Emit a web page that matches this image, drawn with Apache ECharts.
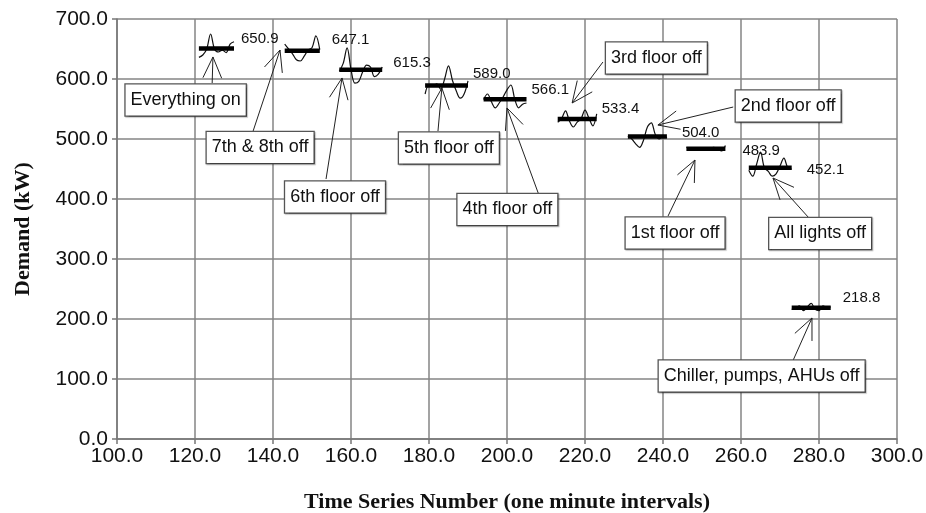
<!DOCTYPE html>
<html>
<head>
<meta charset="utf-8">
<script src="https://cdn.jsdelivr.net/npm/echarts@6/dist/echarts.min.js"></script>
<style>
  html, body { margin: 0; padding: 0; background: #fff; }
  #chart { width: 926px; height: 513px; }
</style>
</head>
<body>
<div id="chart"></div>
<script>
// Building demand (kW), one reading per minute, for each load-shedding step
const stepStart = [121, 143, 157, 179, 194, 213, 231, 246, 262, 273];
const everythingOn = [636, 640, 650, 675, 650, 645, 648, 644, 658, 662];
const floors78Off = [658, 650, 642, 632, 630, 638, 648, 652, 672, 649];
const floor6Off = [613, 626, 652, 616, 593, 596, 612, 623, 620, 604, 608, 620];
const floor5Off = [575, 590, 588, 592, 583, 600, 622, 598, 580, 568, 575, 597];
const floor4Off = [566, 575, 562, 552, 560, 570, 582, 590, 566, 552, 558, 560];
const floor3Off = [528, 534, 547, 530, 520, 528, 534, 548, 535, 522, 542];
const floor2Off = [505, 500, 492, 486, 498, 520, 527, 508, 500, 506, 502];
const floor1Off = [486, 484, 482, 485, 483, 481, 484, 486, 483, 480, 489];
const lightsOff = [448, 438, 458, 478, 452, 446, 438, 442, 455, 468, 452, 450];
const chillerOff = [216, 218, 222, 214, 220, 226, 216, 214, 222, 219, 220];

// Average demand of each step
const stepMeans = [650.9, 647.1, 615.3, 589.0, 566.1, 533.4, 504.0, 483.9, 452.1, 218.8];

// Axis ticks
const xTicks = [100, 120, 140, 160, 180, 200, 220, 240, 260, 280, 300];
const yTicks = [0, 100, 200, 300, 400, 500, 600, 700];

// Callouts: text, box centre, arrow tail and arrow tip (axis units)
const calloutText = ['Everything on', '7th & 8th off', '6th floor off', '5th floor off', '4th floor off',
  '3rd floor off', '2nd floor off', '1st floor off', 'All lights off', 'Chiller, pumps, AHUs off'];
const calloutBox = [[117.6, 565], [136.7, 485.8], [155.9, 403.3], [185.1, 485], [200.1, 382.5],
  [238.3, 635], [272.1, 555], [243.1, 343.3], [280.3, 342.5], [265.3, 105]];
const arrowTail = [[124.4, 593.3], [134.9, 513.3], [153.6, 433.3], [182.3, 513.3], [208, 410],
  [224.6, 628.3], [258, 553.3], [241.3, 371.7], [277.2, 370], [272.6, 120]];
const arrowTip = [[124.6, 636.7], [141.8, 648.3], [157.7, 601.7], [183.3, 585], [200, 551.7],
  [216.7, 560], [238.7, 523.3], [248.2, 465], [268.2, 435], [278.2, 201.7]];

const steps = [everythingOn, floors78Off, floor6Off, floor5Off, floor4Off,
  floor3Off, floor2Off, floor1Off, lightsOff, chillerOff];

// Nudges for the mean-value labels, in pixels
const labelNudge = [[7, -10], [12, -11], [11, -7], [5, -12], [5, -9], [5, -10], [15, -4], [17, 2], [15, 2], [12, -10]];

const sans = '"Liberation Sans", Arial, sans-serif';
const serif = '"Liberation Serif", "Times New Roman", serif';

const series = [];
steps.forEach((vals, i) => {
  const x0 = stepStart[i];
  // raw minute readings
  series.push({
    type: 'line',
    data: vals.map((v, k) => [x0 + k, v]),
    symbol: 'none',
    smooth: 0.35,
    lineStyle: { color: '#111', width: 1.2 },
    z: 3
  });
  // step average, labelled at its right end
  const x1 = x0 + vals.length - 1;
  series.push({
    type: 'line',
    data: [[x0, stepMeans[i]], [x1, stepMeans[i]]],
    symbol: 'none',
    lineStyle: { color: '#000', width: 4.5 },
    z: 4,
    endLabel: {
      show: true,
      formatter: stepMeans[i].toFixed(1),
      distance: 0,
      offset: labelNudge[i],
      fontFamily: sans,
      fontSize: 15,
      color: '#111'
    }
  });
});

// Boxed callouts with open-headed arrows
series.push({
  type: 'custom',
  clip: false,
  z: 6,
  data: calloutBox.map((b, i) => [b[0], b[1], i]),
  encode: { x: 0, y: 1 },
  renderItem: function (params, api) {
    const i = api.value(2);
    const box = api.coord(calloutBox[i]);
    const tail = api.coord(arrowTail[i]);
    const tip = api.coord(arrowTip[i]);
    const ang = Math.atan2(tail[1] - tip[1], tail[0] - tip[0]);
    const wing = 23, spread = 0.42;
    const w1 = [tip[0] + wing * Math.cos(ang + spread), tip[1] + wing * Math.sin(ang + spread)];
    const w2 = [tip[0] + wing * Math.cos(ang - spread), tip[1] + wing * Math.sin(ang - spread)];
    const ls = { stroke: '#222', lineWidth: 1, fill: null };
    return {
      type: 'group',
      children: [
        { type: 'line', shape: { x1: tail[0], y1: tail[1], x2: tip[0], y2: tip[1] }, style: ls },
        { type: 'line', shape: { x1: w1[0], y1: w1[1], x2: tip[0], y2: tip[1] }, style: ls },
        { type: 'line', shape: { x1: w2[0], y1: w2[1], x2: tip[0], y2: tip[1] }, style: ls },
        {
          type: 'text',
          x: box[0], y: box[1],
          style: {
            text: calloutText[i],
            fontFamily: sans,
            fontSize: 18,
            fill: '#111',
            align: 'center',
            verticalAlign: 'middle',
            backgroundColor: '#fff',
            borderColor: '#555',
            borderWidth: 1.3,
            padding: [7, 5, 6, 5],
            shadowColor: 'rgba(0,0,0,0.25)',
            shadowOffsetX: 1,
            shadowOffsetY: 1,
            shadowBlur: 1
          }
        }
      ]
    };
  }
});

const axisCommon = {
  type: 'value',
  axisLine: { show: true, lineStyle: { color: '#777', width: 1.5 } },
  axisTick: { show: true, inside: false, length: 5, lineStyle: { color: '#777', width: 1.5 } },
  splitLine: { show: true, lineStyle: { color: '#858585', width: 1.5 } },
  axisLabel: { fontFamily: sans, fontSize: 21, color: '#111', formatter: v => v.toFixed(1) }
};

const chart = echarts.init(document.getElementById('chart'), null, { renderer: 'canvas' });
chart.setOption({
  animation: false,
  backgroundColor: '#fff',
  grid: { left: 117, right: 29, top: 19, bottom: 74, containLabel: false, outerBoundsMode: 'none' },
  xAxis: Object.assign({}, axisCommon, {
    min: xTicks[0], max: xTicks[xTicks.length - 1], interval: xTicks[1] - xTicks[0],
    axisLabel: Object.assign({}, axisCommon.axisLabel, { margin: 7 }),
    name: 'Time Series Number (one minute intervals)',
    nameLocation: 'middle', nameGap: 52,
    nameTextStyle: { fontFamily: serif, fontWeight: 'bold', fontSize: 22, color: '#111' }
  }),
  yAxis: Object.assign({}, axisCommon, {
    min: yTicks[0], max: yTicks[yTicks.length - 1], interval: yTicks[1] - yTicks[0],
    axisLabel: Object.assign({}, axisCommon.axisLabel, { margin: 9 }),
    name: 'Demand (kW)',
    nameLocation: 'middle', nameGap: 83,
    nameTextStyle: { fontFamily: serif, fontWeight: 'bold', fontSize: 22, color: '#111' }
  }),
  series: series
});
</script>
</body>
</html>
